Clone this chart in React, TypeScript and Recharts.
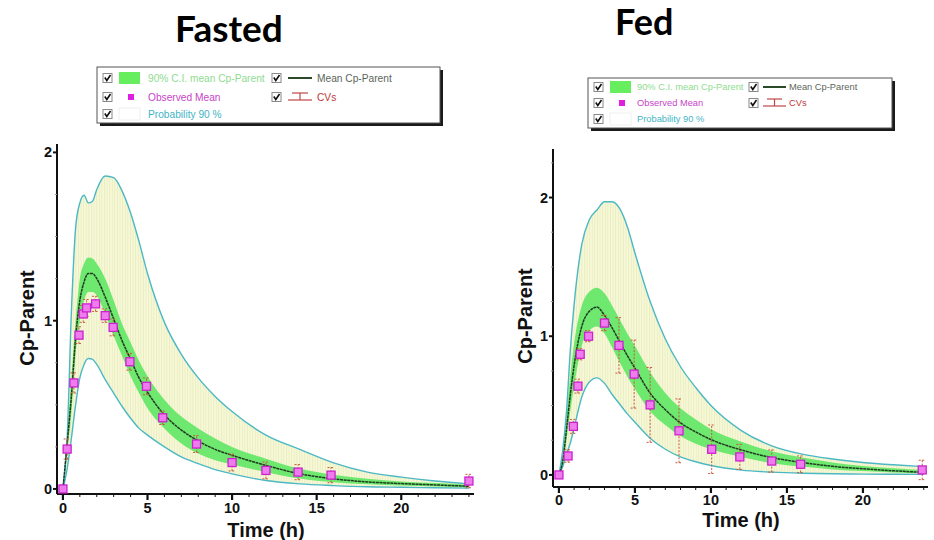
import { ComposedChart, Area, Line, Scatter, ErrorBar, XAxis, YAxis } from 'recharts';

// ---- Fasted: simulated curves ----
const fastedTime = [0, 0.25, 0.5, 0.75, 1, 1.25, 1.5, 1.75, 2, 2.5, 3, 3.5, 4, 4.5, 5, 6, 7, 8, 9, 10, 12, 14, 16, 18, 20, 22, 24];
const fastedMean = [0, 0.27, 0.55, 0.9, 1.12, 1.23, 1.28, 1.28, 1.25, 1.14, 1.01, 0.88, 0.77, 0.66, 0.575, 0.44, 0.35, 0.285, 0.235, 0.2, 0.14, 0.09, 0.06, 0.042, 0.032, 0.024, 0.016];
const fastedCiLo = [0, 0.22, 0.45, 0.8, 1.0, 1.12, 1.17, 1.17, 1.15, 1.04, 0.91, 0.79, 0.67, 0.57, 0.48, 0.36, 0.27, 0.21, 0.17, 0.145, 0.1, 0.062, 0.04, 0.028, 0.02, 0.014, 0.008];
const fastedCiHi = [0, 0.32, 0.66, 1.0, 1.25, 1.34, 1.375, 1.37, 1.34, 1.25, 1.12, 0.98, 0.87, 0.76, 0.67, 0.53, 0.43, 0.36, 0.3, 0.25, 0.18, 0.12, 0.085, 0.06, 0.045, 0.035, 0.025];
const fastedPiLo = [0, 0.12, 0.3, 0.5, 0.66, 0.74, 0.775, 0.77, 0.74, 0.65, 0.57, 0.49, 0.42, 0.36, 0.32, 0.25, 0.19, 0.15, 0.115, 0.09, 0.05, 0.03, 0.02, 0.013, 0.01, 0.007, 0.005];
const fastedPiHi = [0, 0.3, 1.05, 1.55, 1.7, 1.745, 1.7, 1.71, 1.78, 1.86, 1.85, 1.77, 1.64, 1.47, 1.28, 0.99, 0.8, 0.66, 0.55, 0.46, 0.32, 0.235, 0.155, 0.1, 0.07, 0.047, 0.03];

// ---- Fasted: observed means ----
const fastedObsTime = [0, 0.25, 0.65, 0.95, 1.2, 1.4, 1.93, 2.5, 2.97, 3.96, 4.94, 5.9, 7.9, 10, 12, 13.9, 15.85, 24];
const fastedObsMean = [0, 0.237, 0.63, 0.914, 1.04, 1.076, 1.1, 1.03, 0.96, 0.756, 0.61, 0.423, 0.267, 0.157, 0.11, 0.1, 0.082, 0.047];
const fastedObsCv = [0, 0.06, 0.06, 0.05, 0.05, 0.05, 0.045, 0.04, 0.05, 0.05, 0.05, 0.04, 0.05, 0.05, 0.05, 0.045, 0.045, 0.04];

// ---- Fed: simulated curves ----
const fedTime = [0, 0.25, 0.5, 0.75, 1, 1.5, 2, 2.5, 3, 3.5, 4, 4.5, 5, 6, 7, 8, 9, 10, 12, 14, 16, 18, 20, 22, 24];
const fedMean = [0, 0.1, 0.33, 0.58, 0.79, 1.07, 1.18, 1.21, 1.15, 1.06, 0.96, 0.86, 0.77, 0.59, 0.47, 0.375, 0.31, 0.255, 0.18, 0.125, 0.09, 0.062, 0.044, 0.03, 0.018];
const fedCiLo = [0, 0.06, 0.25, 0.46, 0.64, 0.93, 1.04, 1.07, 1.02, 0.92, 0.81, 0.71, 0.62, 0.46, 0.36, 0.28, 0.225, 0.185, 0.13, 0.085, 0.06, 0.04, 0.028, 0.018, 0.01];
const fedCiHi = [0, 0.14, 0.42, 0.72, 0.95, 1.22, 1.32, 1.35, 1.31, 1.22, 1.12, 1.02, 0.93, 0.74, 0.59, 0.48, 0.4, 0.33, 0.24, 0.17, 0.125, 0.09, 0.065, 0.048, 0.035];
const fedPiLo = [0, 0.06, 0.15, 0.23, 0.34, 0.56, 0.67, 0.7, 0.66, 0.58, 0.51, 0.44, 0.38, 0.265, 0.185, 0.13, 0.095, 0.068, 0.035, 0.02, 0.012, 0.008, 0.006, 0.005, 0.004];
const fedPiHi = [0, 0.18, 0.46, 0.9, 1.23, 1.66, 1.84, 1.91, 1.97, 1.97, 1.92, 1.79, 1.6, 1.25, 0.98, 0.78, 0.63, 0.5, 0.32, 0.21, 0.15, 0.115, 0.09, 0.073, 0.06];

// ---- Fed: observed means ----
const fedObsTime = [0, 0.6, 0.95, 1.25, 1.4, 1.95, 3.0, 3.95, 4.95, 6, 7.9, 10.05, 11.9, 14, 15.9, 23.9];
const fedObsMean = [0, 0.137, 0.35, 0.64, 0.87, 1.0, 1.095, 0.934, 0.727, 0.505, 0.318, 0.185, 0.13, 0.1, 0.077, 0.036];
const fedObsCv = [0, 0.045, 0.05, 0.05, 0.04, 0.04, 0.055, 0.2, 0.245, 0.27, 0.23, 0.175, 0.09, 0.08, 0.06, 0.07];

const xTicks = [0, 1, 2, 3, 4, 5, 6, 7, 8, 9, 10, 11, 12, 13, 14, 15, 16, 17, 18, 19, 20, 21, 22, 23, 24];
const fastedYTicks = [0, 0.25, 0.5, 0.75, 1, 1.25, 1.5, 1.75, 2];
const fedYTicks = [0, 0.25, 0.5, 0.75, 1, 1.25, 1.5, 1.75, 2, 2.25];

const AXIS_FONT = '"Liberation Sans", Arial, sans-serif';

const buildCurves = (t: number[], mean: number[], ciLo: number[], ciHi: number[], piLo: number[], piHi: number[]) =>
  t.map((time, i) => ({
    t: time,
    mean: mean[i],
    ci: [ciLo[i], ciHi[i]],
    pi: [piLo[i], piHi[i]],
    piLo: piLo[i],
    piHi: piHi[i],
  }));

const buildObs = (t: number[], v: number[], err: number[]) => t.map((time, i) => ({ t: time, v: v[i], err: err[i] }));

const XTick = (props: any) => {
  const { x, y, payload, labelDy } = props;
  const major = payload.value % 5 === 0;
  return (
    <g>
      <line x1={x} x2={x} y1={y} y2={y + (major ? 6 : 3)} stroke="#111" strokeWidth={major ? 2.2 : 1} />
      {major && (
        <text x={x} y={y + labelDy} textAnchor="middle" fontSize={14.5} fontWeight="bold" fontFamily={AXIS_FONT} fill="#111">
          {payload.value}
        </text>
      )}
    </g>
  );
};

const YTick = (props: any) => {
  const { x, y, payload } = props;
  const major = Number.isInteger(payload.value);
  return (
    <g>
      <line x1={x - (major ? 4 : 2)} x2={x} y1={y} y2={y} stroke={major ? '#111' : '#999'} strokeWidth={major ? 2 : 1} />
      {major && (
        <text x={x - 5} y={y + 5} textAnchor="end" fontSize={14.5} fontWeight="bold" fontFamily={AXIS_FONT} fill="#111">
          {payload.value}
        </text>
      )}
    </g>
  );
};

const Square = (p: any) => {
  if (p.cx == null || p.cy == null) return null;
  return <rect x={p.cx - 4} y={p.cy - 4} width={8} height={8} fill="#ee7cee" stroke="#cc22cc" strokeWidth={1.3} />;
};

type PanelProps = {
  id: string;
  left: number;
  width: number;
  margin: { top: number; right: number; bottom: number; left: number };
  xDomain: [number, number];
  yDomain: [number, number];
  yTicks: number[];
  labelDy: number;
  curves: any[];
  obs: any[];
};

function Panel({ id, left, width, margin, xDomain, yDomain, yTicks, labelDy, curves, obs }: PanelProps) {
  return (
    <div style={{ position: 'absolute', left, top: 0 }}>
      <ComposedChart width={width} height={540} margin={margin}>
        <defs>
          <pattern id={`hatch-${id}`} width="2.6" height="4" patternUnits="userSpaceOnUse">
            <rect width="2.6" height="4" fill="#f8f8d8" />
            <line x1="0.5" y1="0" x2="0.5" y2="4" stroke="#e8eec0" strokeWidth="0.9" />
          </pattern>
        </defs>
        <XAxis
          dataKey="t"
          type="number"
          domain={xDomain}
          allowDataOverflow
          ticks={xTicks}
          interval={0}
          tick={<XTick labelDy={labelDy} />}
          tickLine={false}
          tickSize={0}
          tickMargin={0}
          height={30}
          axisLine={{ stroke: '#111', strokeWidth: 2 }}
        />
        <YAxis
          type="number"
          domain={yDomain}
          allowDataOverflow
          ticks={yTicks}
          interval={0}
          tick={<YTick />}
          tickLine={false}
          tickSize={0}
          tickMargin={0}
          width={30}
          axisLine={{ stroke: '#111', strokeWidth: 2 }}
        />
        <XAxis xAxisId="top" orientation="top" type="number" domain={xDomain} tick={false} tickLine={false} height={0} axisLine={{ stroke: '#7a7a7a', strokeWidth: 1.5 }} />
        <YAxis yAxisId="right" orientation="right" type="number" domain={yDomain} tick={false} tickLine={false} width={0} axisLine={{ stroke: '#7a7a7a', strokeWidth: 1.5 }} />

        <Area data={curves} dataKey="pi" type="monotone" fill={`url(#hatch-${id})`} fillOpacity={1} stroke="none" isAnimationActive={false} />
        <Line data={curves} dataKey="piHi" type="monotone" stroke="#4cb8c4" strokeWidth={1.4} dot={false} isAnimationActive={false} />
        <Line data={curves} dataKey="piLo" type="monotone" stroke="#4cb8c4" strokeWidth={1.4} dot={false} isAnimationActive={false} />
        <Area data={curves} dataKey="ci" type="monotone" fill="#6fe86f" fillOpacity={1} stroke="none" isAnimationActive={false} />
        <Line data={curves} dataKey="mean" type="monotone" stroke="#1f3a1f" strokeWidth={1.5} strokeDasharray="3 0.6" dot={false} isAnimationActive={false} />
        <Scatter data={obs} dataKey="v" shape={Square} isAnimationActive={false}>
          <ErrorBar dataKey="err" direction="y" width={3.5} stroke="#c65a3c" strokeWidth={1} strokeDasharray="2 1.5" />
        </Scatter>
      </ComposedChart>
    </div>
  );
}

type LegendProps = { x: number; y: number; w: number; h: number; fs: number; rows: number[]; tx1: number; cb2: number; ic: [number, number]; tx2: number };

function CheckBox({ x, y }: { x: number; y: number }) {
  return (
    <g>
      <rect x={x} y={y - 4.5} width={9} height={9} fill="#fff" stroke="#8a8a8a" strokeWidth={1} />
      <polyline points={`${x + 1.8},${y - 0.5} ${x + 3.8},${y + 2.5} ${x + 7.5},${y - 3}`} fill="none" stroke="#111" strokeWidth={1.6} />
    </g>
  );
}

function LegendBox({ x, y, w, h, fs, rows, tx1, cb2, ic, tx2 }: LegendProps) {
  const font = { fontFamily: AXIS_FONT, fontSize: fs };
  return (
    <g transform={`translate(${x},${y})`}>
      <rect x={3} y={3} width={w} height={h} fill="#1a1a1a" />
      <rect x={0} y={0} width={w} height={h} fill="#fff" stroke="#555" strokeWidth={1} />
      {rows.map((r) => (
        <CheckBox key={r} x={6} y={r} />
      ))}
      <rect x={22} y={rows[0] - 6} width={21} height={12} fill="#66ee5e" />
      <rect x={31} y={rows[1] - 3} width={6} height={6} fill="#e020e0" />
      <rect x={22} y={rows[2] - 6} width={21} height={12} fill="#fff" stroke="#ececec" strokeWidth={0.8} />
      <text x={tx1} y={rows[0] + fs * 0.36} fill="#8fdc8f" {...font}>90% C.I. mean Cp-Parent</text>
      <text x={tx1} y={rows[1] + fs * 0.36} fill="#c845c8" {...font}>Observed Mean</text>
      <text x={tx1} y={rows[2] + fs * 0.36} fill="#3fb4c4" {...font}>Probability 90 %</text>
      <CheckBox x={cb2} y={rows[0]} />
      <CheckBox x={cb2} y={rows[1]} />
      <line x1={ic[0]} x2={ic[1]} y1={rows[0]} y2={rows[0]} stroke="#2a4a2a" strokeWidth={2} />
      <text x={tx2} y={rows[0] + fs * 0.36} fill="#5b665b" {...font}>Mean Cp-Parent</text>
      <g stroke="#c04545" strokeWidth={1.2}>
        <line x1={ic[0] + 4} x2={ic[1] - 4} y1={rows[1] - 4} y2={rows[1] - 4} />
        <line x1={(ic[0] + ic[1]) / 2} x2={(ic[0] + ic[1]) / 2} y1={rows[1] - 4} y2={rows[1] + 3} />
        <line x1={ic[0]} x2={ic[1]} y1={rows[1] + 3} y2={rows[1] + 3} />
      </g>
      <text x={tx2} y={rows[1] + fs * 0.36} fill="#c03838" {...font}>CVs</text>
    </g>
  );
}

export default function App() {
  const fastedCurves = buildCurves(fastedTime, fastedMean, fastedCiLo, fastedCiHi, fastedPiLo, fastedPiHi);
  const fastedObs = buildObs(fastedObsTime, fastedObsMean, fastedObsCv);
  const fedCurves = buildCurves(fedTime, fedMean, fedCiLo, fedCiHi, fedPiLo, fedPiHi);
  const fedObs = buildObs(fedObsTime, fedObsMean, fedObsCv);

  return (
    <div style={{ position: 'absolute', left: 0, top: 0, width: 934, height: 540, background: '#fff', overflow: 'hidden' }}>
      <Panel
        id="fasted"
        left={0}
        width={480}
        margin={{ top: 144, right: 6, bottom: 16, left: 27 }}
        xDomain={[-0.35, 24.3]}
        yDomain={[-0.03, 2.05]}
        yTicks={fastedYTicks}
        labelDy={19}
        curves={fastedCurves}
        obs={fastedObs}
      />
      <Panel
        id="fed"
        left={480}
        width={454}
        margin={{ top: 149, right: 6, bottom: 23, left: 43 }}
        xDomain={[-0.39, 24.28]}
        yDomain={[-0.087, 2.35]}
        yTicks={fedYTicks}
        labelDy={18}
        curves={fedCurves}
        obs={fedObs}
      />
      <svg width={934} height={540} style={{ position: 'absolute', left: 0, top: 0, pointerEvents: 'none' }}>
        <text x={175} y={42} fontFamily="Lato, 'Open Sans', sans-serif" fontWeight="bold" fontSize={37} fill="#000">Fasted</text>
        <text x={615} y={35} fontFamily="Lato, 'Open Sans', sans-serif" fontWeight="bold" fontSize={36} fill="#000">Fed</text>

        <LegendBox x={97} y={67} w={343} h={56} fs={10.2} rows={[11, 30, 47]} tx1={51} cb2={175} ic={[191, 215]} tx2={220} />
        <LegendBox x={588} y={78} w={304} h={50} fs={9.3} rows={[9, 25, 41]} tx1={49} cb2={161} ic={[175, 198]} tx2={201} />

        <text transform="translate(34,318) rotate(-90)" textAnchor="middle" fontFamily={AXIS_FONT} fontWeight="bold" fontSize={20} fill="#111">Cp-Parent</text>
        <text transform="translate(532,316) rotate(-90)" textAnchor="middle" fontFamily={AXIS_FONT} fontWeight="bold" fontSize={20} fill="#111">Cp-Parent</text>
        <text x={266} y={537} textAnchor="middle" fontFamily={AXIS_FONT} fontWeight="bold" fontSize={20} fill="#111">Time (h)</text>
        <text x={741} y={527} textAnchor="middle" fontFamily={AXIS_FONT} fontWeight="bold" fontSize={20} fill="#111">Time (h)</text>
      </svg>
    </div>
  );
}
